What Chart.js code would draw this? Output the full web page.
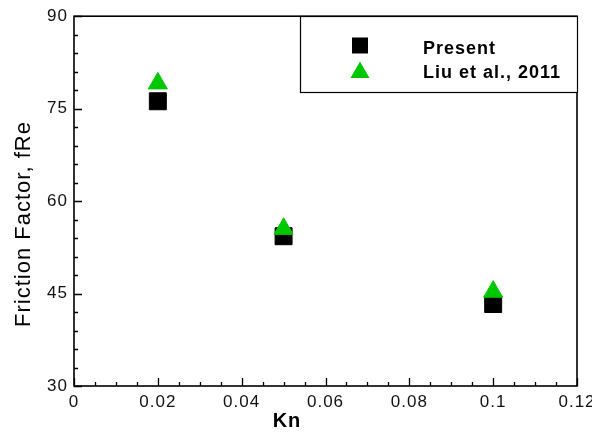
<!DOCTYPE html>
<html>
<head>
<meta charset="utf-8">
<script src="https://cdn.jsdelivr.net/npm/chart.js@4/dist/chart.umd.min.js"></script>
<style>
  html, body { margin: 0; padding: 0; background: #fff; }
  canvas { display: block; }
</style>
</head>
<body>
<canvas id="fReChart" width="610" height="435"></canvas>
<script>
// data
const knValues = [0.02, 0.05, 0.1];
const presentFRe = [76.2, 54.3, 43.3];
const liuFRe = [79.1, 55.5, 45.3];

const seriesLabels = ['Present', 'Liu et al., 2011'];
const xTitle = 'Kn';
const yTitle = 'Friction Factor, fRe';

const xRange = [0, 0.12];
const yRange = [30, 90];
const xMajor = 0.02, xMinor = 0.005;
const yMajor = 15, yMinor = 3;

function toPoints(ys) {
    return knValues.map((k, i) => ({ x: k, y: ys[i] }));
}

// Tecplot style frame: box, inward ticks, titles and a boxed legend
const framePlugin = {
    id: 'frame',
    beforeDraw(chart) {
        chart.ctx.letterSpacing = '1px';
    },
    afterDraw(chart) {
        const ctx = chart.ctx;
        const a = chart.chartArea;
        const xs = chart.scales.x, ys = chart.scales.y;
        ctx.save();
        ctx.strokeStyle = '#000';
        ctx.lineWidth = 1.6;
        ctx.strokeRect(a.left, a.top, a.right - a.left, a.bottom - a.top);

        ctx.lineWidth = 1.3;
        ctx.beginPath();
        for (let i = 0; yRange[0] + i * yMinor <= yRange[1] + 1e-9; i++) {
            const v = yRange[0] + i * yMinor;
            const py = Math.round(ys.getPixelForValue(v)) + 0.5;
            const len = (i % (yMajor / yMinor) === 0) ? 8 : 4;
            ctx.moveTo(a.left, py);
            ctx.lineTo(a.left + len, py);
        }
        for (let i = 0; xRange[0] + i * xMinor <= xRange[1] + 1e-9; i++) {
            const v = xRange[0] + i * xMinor;
            const px = Math.round(xs.getPixelForValue(v)) + 0.5;
            const len = (i % Math.round(xMajor / xMinor) === 0) ? 8 : 4;
            ctx.moveTo(px, a.bottom);
            ctx.lineTo(px, a.bottom - len);
        }
        ctx.stroke();

        // axis titles
        ctx.fillStyle = '#000';
        ctx.textAlign = 'center';
        ctx.textBaseline = 'middle';
        ctx.font = "bold 20px 'Liberation Sans', Arial, sans-serif";
        ctx.fillText(xTitle, 287, 421);
        ctx.save();
        ctx.translate(24, 224);
        ctx.rotate(-Math.PI / 2);
        ctx.font = "22px 'Liberation Sans', Arial, sans-serif";
        ctx.fillText(yTitle, 0, 0);
        ctx.restore();

        // legend box
        ctx.fillStyle = '#fff';
        ctx.fillRect(300, 16, a.right - 300, 76);
        ctx.lineWidth = 1.2;
        ctx.strokeRect(300.5, 16.5, a.right - 300, 76);
        const rows = [45.5, 72.5];
        chart.data.datasets.forEach((ds, i) => {
            const cy = rows[i];
            ctx.fillStyle = ds.backgroundColor;
            ctx.beginPath();
            if (ds.pointStyle === 'rect') {
                ctx.rect(352, cy - 8, 16, 16);
            } else {
                const r = ds.pointRadius;
                ctx.moveTo(360, cy - r);
                ctx.lineTo(360 + r * Math.sin(Math.PI * 2 / 3), cy + r / 2);
                ctx.lineTo(360 - r * Math.sin(Math.PI * 2 / 3), cy + r / 2);
                ctx.closePath();
            }
            ctx.fill();
            ctx.fillStyle = '#000';
            ctx.textAlign = 'left';
            ctx.textBaseline = 'alphabetic';
            ctx.font = "bold 18px 'Liberation Sans', Arial, sans-serif";
            ctx.fillText(ds.label, 423, i === 0 ? 54 : 78);
        });

        // the source image is cut just after the last tick label
        ctx.fillStyle = '#fff';
        ctx.fillRect(592, 0, 18, chart.height);
        ctx.restore();
    }
};

Chart.defaults.font.family = "'Liberation Sans', Arial, sans-serif";

const tickFont = { size: 17 };

new Chart(document.getElementById('fReChart').getContext('2d'), {
    type: 'scatter',
    data: {
        datasets: [{
            label: seriesLabels[0],
            data: toPoints(presentFRe),
            pointStyle: 'rect',
            pointRadius: 12,
            pointHoverRadius: 12,
            backgroundColor: '#000000',
            borderColor: '#000000',
            pointBorderWidth: 1,
            order: 1
        }, {
            label: seriesLabels[1],
            data: toPoints(liuFRe),
            pointStyle: 'triangle',
            pointRadius: 11,
            pointHoverRadius: 11,
            backgroundColor: '#00c800',
            borderColor: '#00c800',
            pointBorderWidth: 1,
            order: 0
        }]
    },
    options: {
        responsive: false,
        animation: false,
        layout: { padding: { top: 13, right: 33, left: 0, bottom: 0 } },
        plugins: {
            legend: { display: false },
            tooltip: { enabled: false }
        },
        scales: {
            x: {
                type: 'linear',
                min: xRange[0],
                max: xRange[1],
                grid: { display: false, drawTicks: false },
                border: { display: false },
                ticks: {
                    stepSize: xMajor,
                    padding: 6,
                    color: '#111',
                    font: tickFont,
                    maxRotation: 0,
                    autoSkip: false,
                    callback: v => String(+Number(v).toFixed(2))
                },
                afterFit(scale) { scale.height = 49; }
            },
            y: {
                min: yRange[0],
                max: yRange[1],
                grid: { display: false, drawTicks: false },
                border: { display: false },
                ticks: {
                    stepSize: yMajor,
                    padding: 6,
                    color: '#111',
                    font: tickFont
                },
                afterFit(scale) { scale.width = 74; }
            }
        }
    },
    plugins: [framePlugin]
});
</script>
</body>
</html>
